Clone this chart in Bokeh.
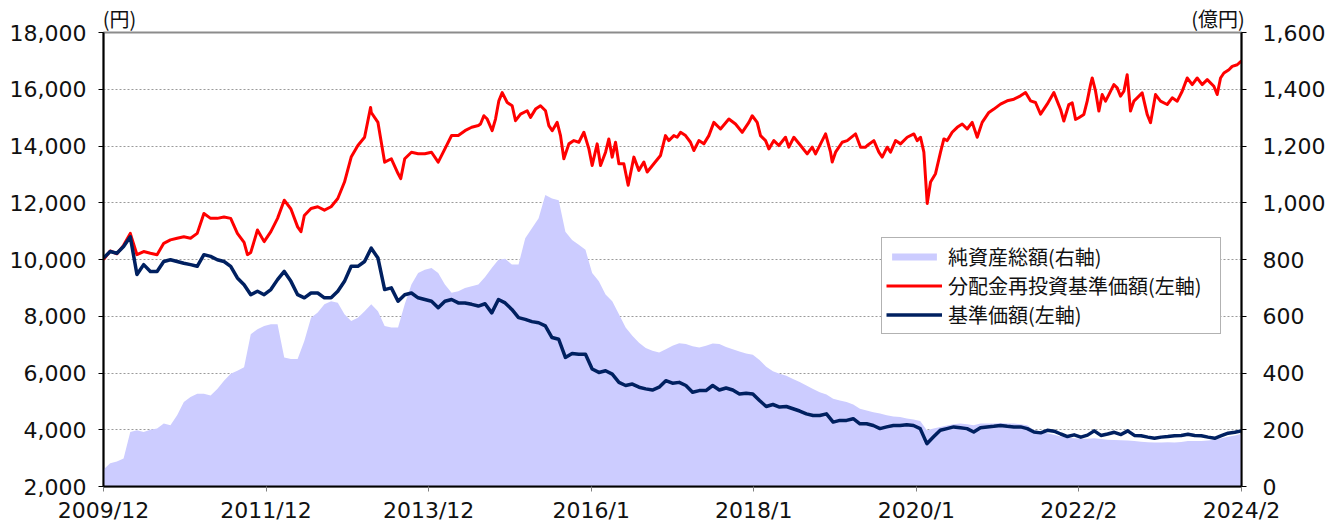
from bokeh.plotting import figure
from bokeh.models import (Range1d, LinearAxis, FixedTicker, NumeralTickFormatter,
                          CustomJSTickFormatter, Legend, LegendItem)
from bokeh.embed import file_html
from bokeh.resources import INLINE

# ---- data (x = months since 2009/12) ----
months = list(range(171))

tick_labels = ["2009/12", "2011/12", "2013/12", "2016/1", "2018/1", "2020/1", "2022/2", "2024/2"]
unit_labels = ["(円)", "(億円)"]

# 基準価額 (monthly readings)
nav = [10050, 10280, 10220, 10460, 10800, 9470, 9820, 9580, 9580, 9930,
       9990, 9930, 9870, 9820, 9760, 10170, 10110, 9990, 9930, 9760,
       9350, 9110, 8760, 8880, 8760, 8940, 9290, 9580, 9230, 8760,
       8650, 8820, 8820, 8650, 8650, 8880, 9230, 9760, 9760, 9930,
       10400, 10050, 8940, 9000, 8530, 8760, 8820, 8650, 8590, 8530,
       8300, 8530, 8590, 8470, 8470, 8420, 8360, 8440, 8120, 8590,
       8470, 8240, 7950, 7890, 7810, 7770, 7660, 7250, 7190, 6550,
       6690, 6660, 6660, 6140, 6020, 6080, 5960, 5670, 5560, 5610,
       5500, 5440, 5400, 5500, 5730, 5640, 5670, 5560, 5320, 5380,
       5380, 5560, 5400, 5470, 5400, 5260, 5290, 5260, 5030, 4820,
       4890, 4800, 4820, 4740, 4660, 4560, 4500, 4500, 4560, 4270,
       4330, 4330, 4390, 4210, 4210, 4150, 4040, 4100, 4150, 4150,
       4180, 4150, 4040, 3510, 3750, 3980, 4040, 4100, 4070, 4040,
       3920, 4070, 4100, 4120, 4150, 4120, 4100, 4100, 4040, 3920,
       3890, 3980, 3950, 3850, 3760, 3820, 3740, 3810, 3960, 3800,
       3850, 3910, 3830, 3960, 3800, 3790, 3740, 3700, 3740, 3760,
       3790, 3800, 3840, 3800, 3790, 3740, 3700, 3790, 3880, 3910,
       3960]

# 分配金再投資基準価額 (readings, finer where the line is jagged)
red_months = [0, 1, 2, 3, 4, 5, 6, 7, 8, 9,
              10, 11, 12, 13, 14, 15, 16, 17, 18, 19,
              20, 21, 21.5, 22, 23, 24, 25, 26, 27, 28,
              29, 29.5, 30, 31, 32, 33, 34, 35, 36, 37,
              38, 39, 39.9, 40, 41, 42, 43, 44, 44.4, 45,
              46, 47, 48, 49, 50, 51, 52, 53, 54, 55,
              56, 56.32, 56.82, 57.32, 58.06, 58.56, 59.06, 59.56, 60.31, 61.05,
              61.55, 62.30, 63.29, 63.79, 64.54, 65.28, 66.03, 66.53, 67.03, 67.77,
              68.27, 68.77, 69.52, 70.27, 71.01, 71.76, 72.51, 73.00, 73.75, 74.25,
              75.00, 75.49, 75.99, 76.49, 76.99, 77.73, 78.38, 79.23, 79.97, 80.72,
              81.22, 82.21, 83.21, 83.95, 84.45, 85.20, 85.70, 86.20, 86.95, 87.69,
              88.19, 88.94, 89.68, 90.43, 91.18, 92.17, 93.42, 94.41, 95.41, 96.41,
              96.91, 97.65, 98.15, 98.90, 99.40, 100.14, 100.89, 101.88, 102.38, 103.13,
              104.13, 105.12, 105.87, 106.37, 107.12, 107.87, 108.61, 108.86, 109.36, 110.35,
              111.10, 112.35, 113.09, 113.84, 114.09, 115.08, 115.83, 116.33, 117.07, 117.57,
              118.32, 119.07, 120.06, 121.06, 121.55, 122.05, 122.55, 123.05, 123.55, 124.29,
              125.04, 125.54, 126.04, 126.78, 127.53, 128.28, 129.02, 129.77, 130.52, 131.26,
              132.26, 133.01, 134.00, 135.00, 136.00, 136.99, 137.74, 138.48, 139.23, 139.98,
              140.97, 141.97, 142.47, 142.97, 143.46, 144.21, 144.71, 145.21, 145.70, 146.45,
              146.95, 147.45, 147.70, 148.20, 148.69, 149.19, 149.69, 150.19, 150.93, 151.43,
              151.93, 152.43, 152.92, 153.42, 153.92, 154.42, 155.16, 155.91, 156.41, 157.16,
              157.90, 158.90, 159.65, 160.40, 161.14, 161.89, 162.64, 163.38, 164.13, 164.88,
              165.87, 166.37, 166.87, 167.37, 168.12, 168.61, 169.36, 170.00]

reinvested_nav = [10000, 10300, 10200, 10500, 10920, 10170, 10280, 10220, 10170, 10570,
                  10690, 10750, 10800, 10750, 10920, 11620, 11450, 11450, 11500, 11450,
                  10920, 10600, 10170, 10250, 11040, 10630, 10980, 11450, 12090, 11780,
                  11150, 10980, 11550, 11800, 11860, 11740, 11860, 12150, 12730, 13610,
                  14020, 14310, 15360, 15180, 14830, 13430, 13550, 13030, 12850, 13550,
                  13780, 13730, 13730, 13780, 13430, 13900, 14370, 14370, 14540, 14660,
                  14720, 14775, 15066, 14950, 14541, 14950, 15592, 15883, 15533, 15417,
                  14891, 15125, 15242, 15008, 15300, 15417, 15242, 14716, 14541, 14833,
                  14366, 13549, 14075, 14191, 14133, 14483, 13899, 13316, 14075, 13316,
                  13783, 14250, 13608, 14133, 13374, 13374, 12616, 13608, 13141, 13433,
                  13083, 13374, 13666, 14366, 14191, 14366, 14308, 14483, 14366, 14133,
                  13841, 14191, 14075, 14366, 14833, 14600, 14950, 14775, 14483, 14833,
                  15066, 14833, 14366, 14191, 13899, 14191, 14016, 14308, 13958, 14308,
                  14016, 13724, 13958, 13724, 14075, 14425, 13783, 13433, 13783, 14133,
                  14191, 14425, 13958, 13958, 14016, 14191, 13783, 13608, 13958, 13783,
                  14191, 14075, 14308, 14425, 14191, 14308, 13783, 11974, 12733, 13024,
                  13783, 14250, 14191, 14483, 14658, 14775, 14600, 14833, 14308, 14833,
                  15183, 15300, 15475, 15592, 15650, 15767, 15883, 15592, 15533, 15125,
                  15475, 15883, 15580, 15288, 14880, 15463, 15522, 14938, 14996, 15113,
                  15580, 16163, 16397, 15930, 15230, 15813, 15580, 15813, 16163, 16047,
                  15755, 15930, 16513, 15230, 15580, 15697, 15872, 15113, 14821, 15813,
                  15580, 15463, 15697, 15580, 15930, 16397, 16163, 16397, 16163, 16338,
                  16105, 15813, 16397, 16572, 16688, 16805, 16863, 17000]

# 純資産総額 (monthly readings, 億円)
net_assets = [60, 82, 88, 99, 192, 198, 192, 200, 204, 222,
              216, 251, 298, 315, 327, 327, 321, 344, 373, 397,
              408, 420, 537, 554, 566, 572, 572, 455, 449, 449,
              513, 595, 613, 642, 653, 648, 607, 583, 595, 618,
              642, 618, 566, 560, 560, 642, 712, 752, 764, 770,
              752, 712, 683, 688, 700, 706, 712, 738, 770, 799,
              803, 782, 782, 875, 910, 945, 1027, 1015, 1009, 898,
              869, 852, 834, 752, 723, 677, 653, 607, 560, 531,
              507, 488, 478, 472, 484, 496, 505, 502, 494, 490,
              496, 504, 502, 492, 484, 476, 469, 464, 446, 422,
              406, 397, 390, 379, 368, 356, 344, 332, 324, 309,
              303, 298, 289, 274, 268, 262, 257, 251, 247, 245,
              240, 236, 231, 198, 204, 210, 215, 219, 222, 219,
              216, 222, 222, 222, 224, 222, 222, 219, 216, 198,
              192, 188, 182, 176, 172, 170, 168, 168, 170, 167,
              165, 164, 163, 162, 160, 158, 156, 155, 155, 156,
              155, 157, 160, 160, 160, 162, 165, 170, 175, 180,
              186]

left_ticks = [2000, 4000, 6000, 8000, 10000, 12000, 14000, 16000, 18000]
right_ticks = [0, 200, 400, 600, 800, 1000, 1200, 1400, 1600]

# ---- figure ----
NUM_FONT = "DejaVu Sans"
JP_FONT = "Noto Sans CJK JP"

p = figure(width=1335, height=525, output_backend="svg", toolbar_location=None,
           x_range=Range1d(0, months[-1]), y_range=Range1d(left_ticks[0], left_ticks[-1]),
           min_border_left=103, min_border_right=94, min_border_top=31, min_border_bottom=37)
p.extra_y_ranges = {"right": Range1d(right_ticks[0], right_ticks[-1])}

p.outline_line_color = "#8c8c8c"
p.outline_line_width = 2
p.background_fill_color = "white"
p.border_fill_color = "white"

area = p.varea(x=months, y1=0, y2=net_assets, y_range_name="right", fill_color="#CCCCFF")
red = p.line(red_months, reinvested_nav, line_color="#FF0000", line_width=3, line_join="round")
navy = p.line(months, nav, line_color="#002060", line_width=3.5, line_join="round")

# x axis
step = months[-1] / (len(tick_labels) - 1)
xa = p.xaxis[0]
xa.ticker = FixedTicker(ticks=[i * step for i in range(len(tick_labels))])
xa.formatter = CustomJSTickFormatter(args=dict(labels=tick_labels, step=step),
                                     code="return labels[Math.round(tick/step)] || '';")
xa.axis_line_color = "black"
xa.axis_line_width = 2
xa.major_tick_in = 0
xa.major_tick_out = 5
xa.major_tick_line_color = "#808080"
xa.minor_tick_line_color = None
xa.major_label_standoff = 6
xa.major_label_text_font = NUM_FONT
xa.major_label_text_font_size = "22px"
xa.major_label_text_color = "#111111"

# unit captions: a tick-less axis above the frame (one row, not clipped)
unit_pos = [2.4, 166.5]
ua = LinearAxis(ticker=FixedTicker(ticks=unit_pos),
                formatter=CustomJSTickFormatter(args=dict(labels=unit_labels, pos=unit_pos),
                                                code="return tick < (pos[0] + pos[1]) / 2 ? labels[0] : labels[1];"))
ua.axis_line_color = None
ua.major_tick_line_color = None
ua.minor_tick_line_color = None
ua.major_tick_in = 0
ua.major_tick_out = 0
ua.major_label_standoff = 0
ua.major_label_text_font = JP_FONT
ua.major_label_text_font_size = "20px"
ua.major_label_text_color = "#111111"
p.add_layout(ua, "above")

# left axis
ya = p.yaxis[0]
ya.ticker = FixedTicker(ticks=left_ticks)
ya.formatter = NumeralTickFormatter(format="0,0")
ya.axis_line_color = "black"
ya.axis_line_width = 2
ya.major_tick_in = 0
ya.major_tick_out = 5
ya.major_tick_line_color = "black"
ya.minor_tick_line_color = None
ya.major_label_standoff = 12
ya.major_label_text_font = NUM_FONT
ya.major_label_text_font_size = "22px"
ya.major_label_text_color = "#111111"

# right axis
ra = LinearAxis(y_range_name="right", ticker=FixedTicker(ticks=right_ticks),
                formatter=NumeralTickFormatter(format="0,0"))
ra.axis_line_color = "black"
ra.axis_line_width = 2
ra.major_tick_in = 0
ra.major_tick_out = 5
ra.major_tick_line_color = "black"
ra.minor_tick_line_color = None
ra.major_label_standoff = 16
ra.major_label_text_font = NUM_FONT
ra.major_label_text_font_size = "22px"
ra.major_label_text_color = "#111111"
p.add_layout(ra, "right")

# grid
p.xgrid.visible = False
p.ygrid.ticker = FixedTicker(ticks=left_ticks)
p.ygrid.grid_line_color = "#9a9a9a"
p.ygrid.grid_line_width = 1
p.ygrid.grid_line_dash = "2 2"

# legend
legend = Legend(items=[
    LegendItem(label="純資産総額(右軸)", renderers=[area]),
    LegendItem(label="分配金再投資基準価額(左軸)", renderers=[red]),
    LegendItem(label="基準価額(左軸)", renderers=[navy]),
], location=(778, 152))
legend.label_text_font = JP_FONT
legend.label_text_font_size = "20px"
legend.label_text_color = "#111111"
legend.glyph_width = 56
legend.glyph_height = 9
legend.label_height = 22
legend.label_width = 268
legend.spacing = 0
legend.padding = 4
legend.margin = 0
legend.label_standoff = 6
legend.border_line_color = "#666666"
legend.border_line_width = 1
legend.background_fill_color = "white"
legend.background_fill_alpha = 1
p.add_layout(legend, "center")

open("out.html", "w").write(file_html(p, INLINE))
